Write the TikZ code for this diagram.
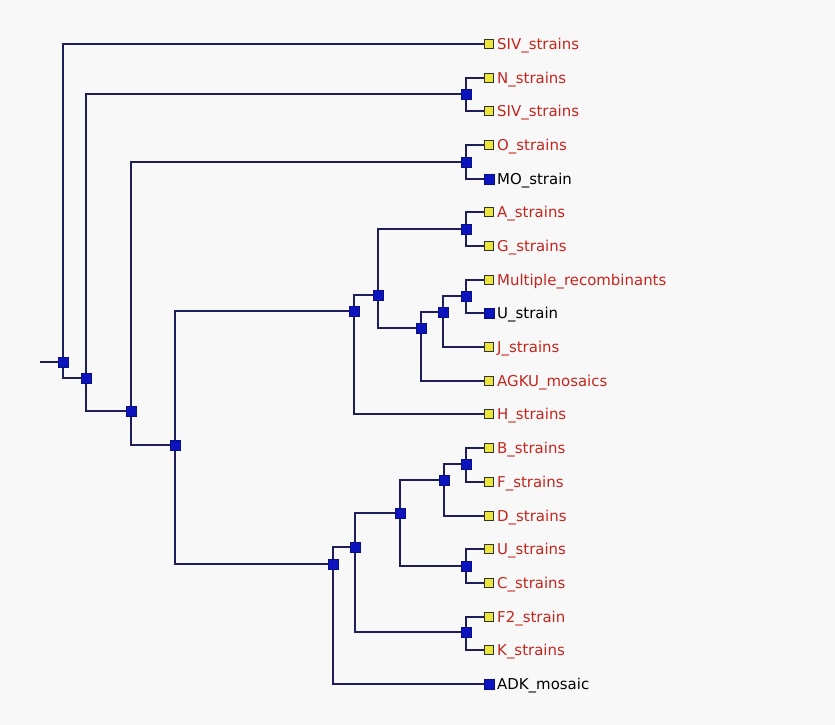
\documentclass[tikz,border=0pt]{standalone}
\usepackage{fontspec}
\setmainfont{DejaVu Sans}
\pgfdeclarelayer{bglayer}
\pgfdeclarelayer{edgelayer}
\pgfsetlayers{bglayer,edgelayer,main}
\definecolor{bgc}{RGB}{248,248,248}
\definecolor{linec}{RGB}{30,30,90}
\definecolor{nodeblue}{RGB}{12,20,190}
\definecolor{leafyellow}{RGB}{236,230,60}
\definecolor{txtred}{RGB}{196,38,30}
\tikzset{
  inode/.style={rectangle,fill=nodeblue,draw=nodeblue!70!black,line width=0.4pt,minimum size=9.5pt,inner sep=0pt},
  leafy/.style={rectangle,fill=leafyellow,draw=black!80,line width=1.2pt,minimum size=9pt,inner sep=0pt},
  leafb/.style={inode},
  lblr/.style={anchor=west,inner sep=0pt,text height=11pt,text depth=0pt,text=txtred,font=\fontsize{15}{15}\selectfont},
  lblk/.style={lblr,text=black},
  branch/.style={draw=linec,line width=2pt}
}
\begin{document}
\begin{tikzpicture}[x=1bp,y=-1bp]
\begin{pgfonlayer}{bglayer}
\fill[bgc] (0,0) rectangle (835,725);
\end{pgfonlayer}
\useasboundingbox (0,0) rectangle (835,725);
% leaves
\def\lx{489}
\def\tx{497}
\foreach \i/\n/\t/\s in {
 1/L1/SIV\_strains/y, 2/L2/N\_strains/y, 3/L3/SIV\_strains/y, 4/L4/O\_strains/y,
 5/L5/MO\_strain/b, 6/L6/A\_strains/y, 7/L7/G\_strains/y, 8/L8/Multiple\_recombinants/y,
 9/L9/U\_strain/b, 10/L10/J\_strains/y, 11/L11/AGKU\_mosaics/y, 12/L12/H\_strains/y,
 13/L13/B\_strains/y, 14/L14/F\_strains/y, 15/L15/D\_strains/y, 16/L16/U\_strains/y,
 17/L17/C\_strains/y, 18/L18/F2\_strain/y, 19/L19/K\_strains/y, 20/L20/ADK\_mosaic/b}{
  \pgfmathsetmacro{\yy}{round(44+33.68*(\i-1))}
  \if y\s
    \node[leafy] (\n) at (\lx,\yy) {};
    \node[lblr] (\n t) at (\tx,\yy) {\t};
  \else
    \node[leafb] (\n) at (\lx,\yy) {};
    \node[lblk] (\n t) at (\tx,\yy) {\t};
  \fi
}
% internal nodes
\node[inode] (root) at (63,362) {};
\node[inode] (n2) at (86,378) {};
\node[inode] (n3) at (131,411) {};
\node[inode] (n4) at (175,445) {};
\node[inode] (NS) at (466,94) {};
\node[inode] (OM) at (466,162) {};
\node[inode] (AG) at (466,229) {};
\node[inode] (T1) at (354,311) {};
\node[inode] (T2) at (378,295) {};
\node[inode] (T3) at (421,328) {};
\node[inode] (T4) at (443,312) {};
\node[inode] (T5) at (466,296) {};
\node[inode] (B1) at (333,564) {};
\node[inode] (B2) at (355,547) {};
\node[inode] (B3) at (400,513) {};
\node[inode] (B4) at (444,480) {};
\node[inode] (BF) at (466,464) {};
\node[inode] (UC) at (466,566) {};
\node[inode] (FK) at (466,632) {};
\coordinate (stub) at (40,362);
\begin{pgfonlayer}{edgelayer}
\draw[branch] (stub) -- (root.center);
\foreach \p/\c in {root/L1, root/n2, n2/NS, n2/n3, n3/OM, n3/n4, n4/T1, n4/B1,
  NS/L2, NS/L3, OM/L4, OM/L5, T1/T2, T1/L12, T2/AG, T2/T3, AG/L6, AG/L7,
  T3/T4, T3/L11, T4/T5, T4/L10, T5/L8, T5/L9,
  B1/B2, B1/L20, B2/B3, B2/FK, B3/B4, B3/UC, B4/BF, B4/L15, BF/L13, BF/L14,
  UC/L16, UC/L17, FK/L18, FK/L19}{
  \draw[branch] (\p.center) |- (\c.center);
}
\end{pgfonlayer}
\end{tikzpicture}
\end{document}
